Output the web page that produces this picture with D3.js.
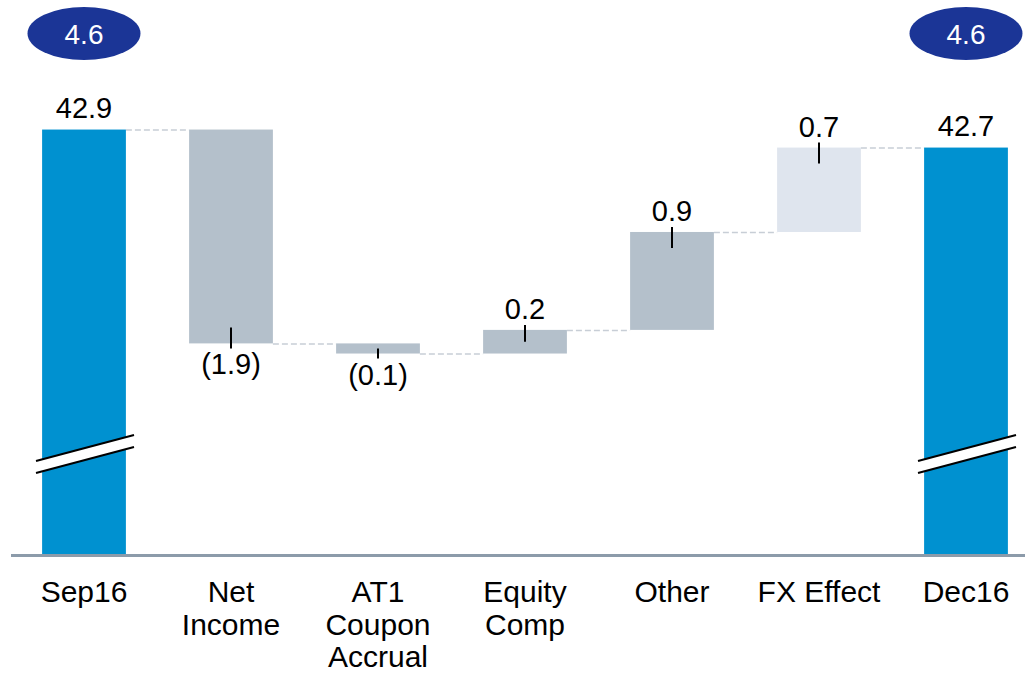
<!DOCTYPE html>
<html>
<head>
<meta charset="utf-8">
<script src="https://cdn.jsdelivr.net/npm/d3@7"></script>
<style>
  body { margin: 0; background: #fff; }
  svg { display: block; font-family: Arial, "Liberation Sans", sans-serif; }
</style>
</head>
<body>
<div class="chart"></div>
<script>
// categories, one entry per bar (multi-line labels split in arrays)
var categories = ["Sep16", "Net Income", "AT1 Coupon Accrual", "Equity Comp", "Other", "FX Effect", "Dec16"];
var categoryLines = [["Sep16"], ["Net", "Income"], ["AT1", "Coupon", "Accrual"], ["Equity", "Comp"], ["Other"], ["FX Effect"], ["Dec16"]];
// start / end totals and the movements in between
var startValue = 42.9;
var deltas = [-1.9, -0.09, 0.21, 0.87, 0.75];
var valueLabels = ["42.9", "(1.9)", "(0.1)", "0.2", "0.9", "0.7", "42.7"];
var badgeLabels = ["4.6", null, null, null, null, null, "4.6"];
var axisMin = 39.12, axisMax = 43.9;

var W = 1025, H = 675;
var baseY = 555;

var svg = d3.select(".chart").append("svg")
  .attr("width", W)
  .attr("height", H);

var xScale = d3.scaleBand().domain(categories).range([10.5, 1039.5]).paddingInner(0.43).paddingOuter(0.215);
var yScale = d3.scaleLinear().domain([axisMin, axisMax]).range([baseY, 17]);

// build waterfall rows
var rows = [];
var running = startValue;
rows.push({cat: categories[0], type: "total", from: axisMin, to: startValue, label: valueLabels[0]});
deltas.forEach(function(d, i) {
  var from = running;
  running = running + d;
  rows.push({cat: categories[i + 1], type: i == deltas.length - 1 ? "fx" : "delta", from: from, to: running, label: valueLabels[i + 1], value: d});
});
rows.push({cat: categories[6], type: "total", from: axisMin, to: running, label: valueLabels[6]});

var fills = {total: "#0091d0", delta: "#b4c0cb", fx: "#dfe5ee"};

// connectors
var conn = rows.slice(0, rows.length - 1).map(function(r, i) {
  return {x1: xScale(r.cat) + xScale.bandwidth(), x2: xScale(rows[i + 1].cat), v: r.to};
});
svg.selectAll(".conn").data(conn).enter().append("line")
  .attr("class", "conn")
  .attr("x1", function(d) { return d.x1; })
  .attr("x2", function(d) { return d.x2; })
  .attr("y1", function(d) { return yScale(d.v) + 0.5; })
  .attr("y2", function(d) { return yScale(d.v) + 0.5; })
  .attr("stroke", "#c8ced6")
  .attr("stroke-width", 1.5)
  .attr("stroke-dasharray", "6,3");

// bars
svg.selectAll(".bar").data(rows).enter().append("rect")
  .attr("class", "bar")
  .attr("x", function(d) { return xScale(d.cat); })
  .attr("width", xScale.bandwidth())
  .attr("y", function(d) { return yScale(Math.max(d.from, d.to)); })
  .attr("height", function(d) { return Math.abs(yScale(d.from) - yScale(d.to)); })
  .attr("fill", function(d) { return fills[d.type]; });

// axis break marks on the total bars
var totals = rows.filter(function(d) { return d.type == "total"; });
var brk = svg.selectAll(".brk").data(totals).enter().append("g")
  .attr("class", "brk")
  .attr("transform", function(d) { return "translate(" + (xScale(d.cat) + xScale.bandwidth() / 2) + "," + (baseY - 101) + ")"; });
brk.append("polygon")
  .attr("points", "-48,7 50,-19 50,-7 -48,19")
  .attr("fill", "#fff");
brk.append("line").attr("x1", -48).attr("y1", 7).attr("x2", 50).attr("y2", -19)
  .attr("stroke", "#000").attr("stroke-width", 2);
brk.append("line").attr("x1", -48).attr("y1", 19).attr("x2", 50).attr("y2", -7)
  .attr("stroke", "#000").attr("stroke-width", 2);

// ticks at the end of each movement
var moves = rows.filter(function(d) { return d.type != "total"; });
svg.selectAll(".tick-mark").data(moves).enter().append("line")
  .attr("class", "tick-mark")
  .attr("x1", function(d) { return xScale(d.cat) + xScale.bandwidth() / 2; })
  .attr("x2", function(d) { return xScale(d.cat) + xScale.bandwidth() / 2; })
  .attr("y1", function(d) {
    var h = Math.abs(yScale(d.from) - yScale(d.to));
    return d.value < 0 ? yScale(d.to) - Math.min(16, h / 2) : yScale(d.to) - 5;
  })
  .attr("y2", function(d) {
    var h = Math.abs(yScale(d.from) - yScale(d.to));
    return d.value < 0 ? yScale(d.to) + 5 : yScale(d.to) + Math.min(16, h / 2);
  })
  .attr("stroke", "#000")
  .attr("stroke-width", 2);

// value labels
svg.selectAll(".val").data(rows).enter().append("text")
  .attr("class", "val")
  .attr("x", function(d) { return xScale(d.cat) + xScale.bandwidth() / 2; })
  .attr("y", function(d) {
    if (d.type == "total") return yScale(d.to) - 12;
    return d.value < 0 ? yScale(d.to) + 31 : yScale(d.to) - 11;
  })
  .attr("text-anchor", "middle")
  .style("font-size", "29px")
  .attr("fill", "#000")
  .text(function(d) { return d.label; });

// badges on top
var badges = categories.map(function(c, i) { return {cat: c, label: badgeLabels[i]}; })
  .filter(function(d) { return d.label; });
var bg = svg.selectAll(".badge").data(badges).enter().append("g")
  .attr("class", "badge")
  .attr("transform", function(d) { return "translate(" + (xScale(d.cat) + xScale.bandwidth() / 2) + ",33.5)"; });
bg.append("ellipse").attr("rx", 56.5).attr("ry", 26.5).attr("fill", "#1b3596");
bg.append("text")
  .attr("y", 10.5)
  .attr("text-anchor", "middle")
  .attr("fill", "#fff")
  .style("font-size", "28px")
  .text(function(d) { return d.label; });

// x axis
var xAxis = d3.axisBottom(xScale).tickSize(0).tickSizeOuter(0);
var ax = svg.append("g")
  .attr("class", "x axis")
  .attr("transform", "translate(0," + baseY + ")")
  .call(xAxis);
ax.select(".domain").attr("stroke", "#8c9baa").attr("stroke-width", 3);
ax.selectAll(".tick text").each(function(d, i) {
  var t = d3.select(this).text("").attr("y", 47).attr("dy", null)
    .style("font-size", "30px").attr("fill", "#000")
    .attr("font-family", "Arial, 'Liberation Sans', sans-serif");
  categoryLines[i].forEach(function(line, j) {
    t.append("tspan").attr("x", 0).attr("dy", j == 0 ? 0 : 32.5).text(line);
  });
});
</script>
</body>
</html>
